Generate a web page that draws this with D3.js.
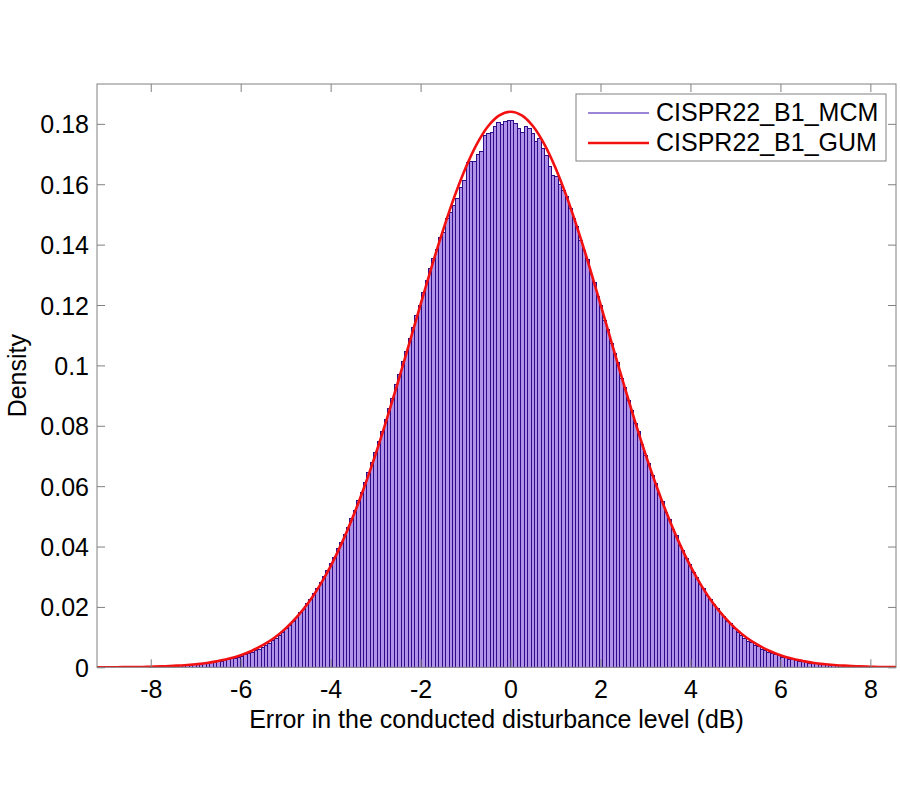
<!DOCTYPE html>
<html>
<head>
<meta charset="utf-8">
<script src="https://cdn.jsdelivr.net/npm/d3@7"></script>
<style>
    body{margin:0;background:#fff;}
    text{font-family:"Liberation Sans",Arial,Helvetica,sans-serif;}
</style>
</head>
<body>
<div id="chart"></div>
<script>
// histogram (MCM), bins of width binWidth starting at binStart
let binStart=-8.056;
let binWidth=0.076;
let mcmDensity=[
    0.0001,0.0001,0.0002,0.0002,0.0002,0.0003,0.0003,0.0004,0.0004,0.0005,
    0.0006,0.0006,0.0007,0.0008,0.0009,0.0010,0.0012,0.0013,0.0015,0.0016,
    0.0018,0.0020,0.0022,0.0025,0.0028,0.0030,0.0034,0.0037,0.0041,0.0045,
    0.0050,0.0055,0.0060,0.0067,0.0072,0.0080,0.0088,0.0096,0.0106,0.0116,
    0.0129,0.0140,0.0153,0.0164,0.0180,0.0192,0.0210,0.0225,0.0244,0.0262,
    0.0282,0.0300,0.0322,0.0344,0.0365,0.0392,0.0412,0.0440,0.0462,0.0494,
    0.0520,0.0553,0.0580,0.0612,0.0645,0.0679,0.0710,0.0748,0.0781,0.0820,
    0.0858,0.0890,0.0936,0.0970,0.1012,0.1046,0.1090,0.1125,0.1166,0.1200,
    0.1243,0.1282,0.1320,0.1353,0.1384,0.1425,0.1440,0.1486,0.1508,0.1530,
    0.1552,0.1590,0.1612,0.1672,0.1675,0.1676,0.1700,0.1709,0.1760,0.1768,
    0.1772,0.1790,0.1805,0.1797,0.1808,0.1812,
    0.1810,0.1800,0.1786,0.1772,0.1790,0.1783,0.1768,0.1741,0.1752,0.1720,
    0.1694,0.1658,0.1630,0.1624,0.1598,0.1580,0.1560,0.1518,0.1488,0.1459,
    0.1412,0.1381,0.1350,0.1302,0.1275,0.1228,0.1198,0.1150,0.1119,0.1072,
    0.1041,0.1008,0.0958,0.0928,0.0883,0.0850,0.0806,0.0781,0.0737,0.0703,
    0.0676,0.0634,0.0609,0.0572,0.0548,0.0512,0.0490,0.0457,0.0436,0.0405,
    0.0386,0.0360,0.0340,0.0315,0.0298,0.0274,0.0260,0.0239,0.0226,0.0207,
    0.0195,0.0178,0.0168,0.0153,0.0144,0.0130,0.0115,0.0105,0.0097,0.0087,
    0.0081,0.0073,0.0068,0.0060,0.0056,0.0050,0.0046,0.0041,0.0038,0.0034,
    0.0031,0.0027,0.0025,0.0022,0.0020,0.0018,0.0016,0.0014,0.0013,0.0011,
    0.0010,0.0009,0.0008,0.0007,0.0006,0.0005,0.0005,0.0004,0.0004,0.0003,
    0.0003,0.0002,0.0002,0.0002,0.0001,0.0001
];
// GUM curve
let gumX=[
    -9.25,-9,-8.75,-8.5,-8.25,-8,-7.75,-7.5,-7.25,-7,-6.75,-6.5,-6.25,-6,
    -5.75,-5.5,-5.25,-5,-4.75,-4.5,-4.25,-4,-3.75,-3.5,-3.25,-3,-2.75,-2.5,
    -2.25,-2,-1.75,-1.5,-1.25,-1,-0.75,-0.5,-0.25,0,0.25,0.5,0.75,1,1.25,
    1.5,1.75,2,2.25,2.5,2.75,3,3.25,3.5,3.75,4,4.25,4.5,4.75,5,5.25,5.5,
    5.75,6,6.25,6.5,6.75,7,7.25,7.5,7.75,8,8.25,8.5,8.75
];
let gumDensity=[
    0,0,0,0.0001,0.0001,0.0002,0.0003,0.0005,0.0007,0.0010,0.0014,0.0021,0.0029,0.0040,
    0.0055,0.0074,0.0098,0.0129,0.0167,0.0213,0.0269,0.0335,0.0412,0.0500,0.0598,0.0706,0.0823,0.0946,
    0.1074,0.1202,0.1329,0.1448,0.1558,0.1654,0.1733,0.1792,0.1828,0.1840,0.1828,0.1792,0.1733,0.1654,0.1558,
    0.1448,0.1329,0.1202,0.1074,0.0946,0.0823,0.0706,0.0598,0.0500,0.0412,0.0335,0.0269,0.0213,0.0167,0.0129,0.0098,0.0074,
    0.0055,0.0040,0.0029,0.0021,0.0014,0.0010,0.0007,0.0005,0.0003,0.0002,0.0001,0.0001,0
];
let xTicks=[-8,-6,-4,-2,0,2,4,6,8];
let xTickLabels=["-8","-6","-4","-2","0","2","4","6","8"];
let yTicks=[0,0.02,0.04,0.06,0.08,0.1,0.12,0.14,0.16,0.18];
let yTickLabels=["0","0.02","0.04","0.06","0.08","0.1","0.12","0.14","0.16","0.18"];
let seriesNames=["CISPR22_B1_MCM","CISPR22_B1_GUM"];

(function(){
    let W=900,H=800;
    let box={left:97,right:896,top:84,bottom:667.3};
    let axisColor="#808080";
    let fontSize=25;
    let tickLen=8;

    let svg=d3.select("#chart").append("svg")
        .attr("width",W).attr("height",H);

    let x=d3.scaleLinear().domain([-9.195,8.57]).range([box.left,box.right]);
    let y=d3.scaleLinear().domain([0,0.1932]).range([box.bottom,box.top]);

    svg.append("clipPath").attr("id","plotclip")
        .append("rect")
        .attr("x",box.left).attr("y",box.top)
        .attr("width",box.right-box.left).attr("height",box.bottom-box.top);

    //histogram bars
    let bins=mcmDensity.map(function(v,i){
        return {x0:binStart+i*binWidth,x1:binStart+(i+1)*binWidth,v:v};
    });
    svg.append("g")
        .attr("clip-path","url(#plotclip)")
        .selectAll("rect")
        .data(bins)
        .enter().append("rect")
        .attr("x",function(d){return x(d.x0)})
        .attr("width",function(d){return x(d.x1)-x(d.x0)})
        .attr("y",function(d){return y(d.v)})
        .attr("height",function(d){return y(0)-y(d.v)})
        .attr("fill","#b092e8")
        .attr("stroke","#2f0c88")
        .attr("stroke-width",1)
        .attr("shape-rendering","crispEdges");

    //gum curve
    svg.append("path")
        .datum(gumX.map(function(v,i){return [v,gumDensity[i]]}))
        .attr("clip-path","url(#plotclip)")
        .attr("fill","none")
        .attr("stroke","#f21010")
        .attr("stroke-width",2.6)
        .attr("d",d3.line()
            .curve(d3.curveCatmullRom)
            .x(function(d){return x(d[0])})
            .y(function(d){return y(d[1])}));

    //axes box with inner ticks on all sides
    let axes=svg.append("g");
    axes.append("rect")
        .attr("x",box.left).attr("y",box.top)
        .attr("width",box.right-box.left).attr("height",box.bottom-box.top)
        .attr("fill","none").attr("stroke",axisColor).attr("stroke-width",1);
    let bottom=axes.append("g")
        .attr("transform","translate(0,"+box.bottom+")")
        .call(d3.axisBottom(x).tickValues(xTicks).tickSizeInner(-tickLen).tickSizeOuter(0)
            .tickFormat(function(d,i){return xTickLabels[i]}));
    let top=axes.append("g")
        .attr("transform","translate(0,"+box.top+")")
        .call(d3.axisTop(x).tickValues(xTicks).tickSizeInner(-tickLen).tickSizeOuter(0).tickFormat(""));
    let left=axes.append("g")
        .attr("transform","translate("+box.left+",0)")
        .call(d3.axisLeft(y).tickValues(yTicks).tickSizeInner(-tickLen).tickSizeOuter(0).tickPadding(8)
            .tickFormat(function(d,i){return yTickLabels[i]}));
    let right=axes.append("g")
        .attr("transform","translate("+box.right+",0)")
        .call(d3.axisRight(y).tickValues(yTicks).tickSizeInner(-tickLen).tickSizeOuter(0).tickFormat(""));
    [bottom,top,left,right].forEach(function(g){
        g.select(".domain").remove();
        g.selectAll(".tick line").attr("stroke",axisColor);
        g.selectAll(".tick text")
            .attr("fill","#000")
            .style("font-size",fontSize+"px")
            .style("font-family","'Liberation Sans',Arial,sans-serif");
    });
    bottom.selectAll(".tick text").attr("dy",0).attr("y",30.5);
    left.selectAll(".tick text").attr("dy","0.36em");

    //axis labels
    svg.append("text")
        .attr("x",(box.left+box.right)/2).attr("y",728)
        .attr("text-anchor","middle")
        .style("font-size",fontSize+"px")
        .text("Error in the conducted disturbance level (dB)");
    svg.append("text")
        .attr("transform","translate(26,"+((box.top+box.bottom)/2)+") rotate(-90)")
        .attr("text-anchor","middle")
        .style("font-size",fontSize+"px")
        .text("Density");

    //legend
    let lg=svg.append("g");
    lg.append("rect")
        .attr("x",576).attr("y",94).attr("width",310).attr("height",67)
        .attr("fill","#fff").attr("stroke",axisColor).attr("stroke-width",1);
    let legendStyle=[{color:"#7a5cc8",width:1.4},{color:"#f21010",width:2.6}];
    seriesNames.forEach(function(name,i){
        let cy=113+i*30;
        lg.append("line")
            .attr("x1",588).attr("x2",649).attr("y1",cy).attr("y2",cy)
            .attr("stroke",legendStyle[i].color).attr("stroke-width",legendStyle[i].width);
        lg.append("text")
            .attr("x",656).attr("y",cy+8)
            .style("font-size",fontSize+"px")
            .text(name);
    });
})();
</script>
</body>
</html>
